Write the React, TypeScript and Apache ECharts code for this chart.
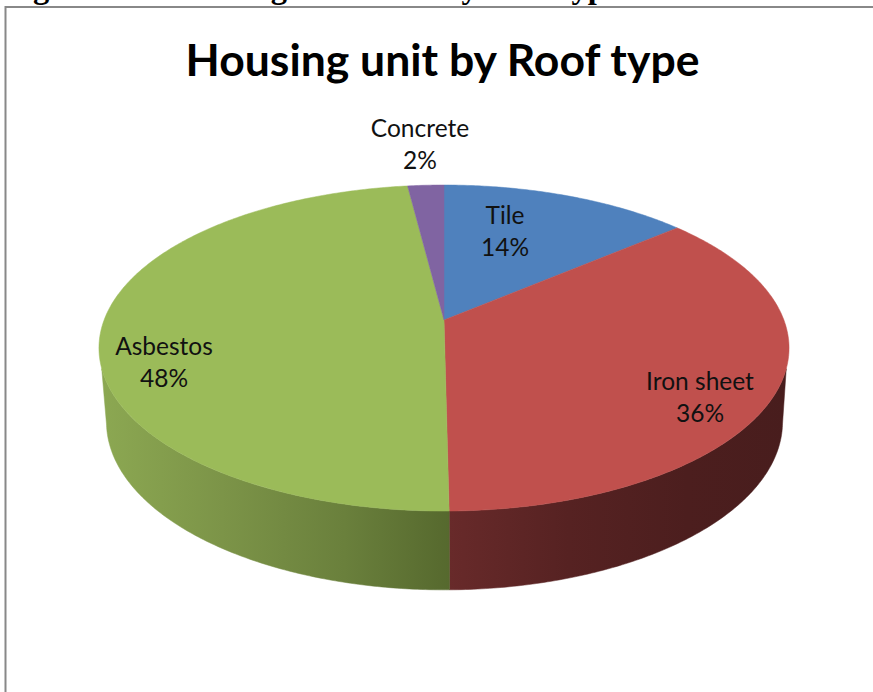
import React, { useEffect, useRef } from "react";
import * as echarts from "echarts";

const TITLE = "Housing unit by Roof type";
const CAPTION = "Figure 3.4:\u00a0 Housing structures by Roof type";
const categories = ["Tile", "Iron sheet", "Asbestos", "Concrete"];
const values = [13.8, 36, 48.2, 2];
const faceColors = ["#4F81BD", "#C0504D", "#9BBB59", "#8064A2"];
// side wall shading: colour stops, left to right, across [x0, x1]
const sideShade: Record<string, { x0: number; x1: number; stops: [number, string][] }> = {
  "Iron sheet": {
    x0: 449,
    x1: 790,
    stops: [[0, "#682A2A"], [0.35, "#562222"], [0.7, "#4C1E1E"], [1, "#481D1D"]],
  },
  Asbestos: {
    x0: 100,
    x1: 449,
    stops: [[0, "#8CA852"], [0.35, "#7C9448"], [0.7, "#6A803C"], [1, "#56692E"]],
  },
};
const labelCentres = [[505, 230], [700, 396], [164, 361], [420, 143]];

const total = values.reduce((a, b) => a + b, 0);
const K = -0.172;
const TOP = { ax: 339.9, ay: 158.2, ox: 444, oy: 320 };
const BOT = { ax: 333, ay: 163, ox: 444.5, oy: 393 };
const DEG = Math.PI / 180;
// where the wall's silhouette leaves the top and bottom rims (degrees from the right-hand side)
const TOP_TANGENT = 107 * DEG;
const BOT_TANGENT = 100.6 * DEG;

const project = (t: typeof TOP, angle: number) => {
  const u = Math.sin(angle);
  const v = -Math.cos(angle);
  const d = 1 + K * v;
  return [t.ox + (t.ax * u) / d, t.oy + (t.ay * v) / d];
};

const arc = (t: typeof TOP, from: number, to: number) => {
  const n = Math.max(8, Math.ceil(Math.abs(to - from) / 0.01));
  const pts: number[][] = [];
  for (let i = 0; i <= n; i++) pts.push(project(t, from + ((to - from) * i) / n));
  return pts;
};

const angleRange = (idx: number, val: number) => {
  const before = values.slice(0, idx).reduce((a, b) => a + b, 0);
  return [(before / total) * 2 * Math.PI, ((before + val) / total) * 2 * Math.PI];
};

const renderSide = (params: any, api: any) => {
  const idx = params.dataIndex;
  const [a0, a1] = angleRange(idx, api.value(1));
  const shade = sideShade[categories[idx]];
  const children: any[] = [];
  if (shade) {
    const topFrom = Math.max(a0, TOP_TANGENT);
    const botFrom = Math.max(a0, BOT_TANGENT);
    const topTo = Math.min(a1, 2 * Math.PI - TOP_TANGENT);
    const botTo = Math.min(a1, 2 * Math.PI - BOT_TANGENT);
    const pts = [...arc(TOP, topFrom, topTo), ...arc(BOT, botTo, botFrom)];
    const gradient = () =>
      new echarts.graphic.LinearGradient(
        shade.x0, 0, shade.x1, 0,
        shade.stops.map(([offset, color]) => ({ offset, color })),
        true,
      );
    children.push({
      type: "polygon",
      shape: { points: pts },
      style: { fill: gradient(), stroke: gradient(), lineWidth: 0.5 },
    });
  }
  return { type: "group", children };
};

const renderFace = (params: any, api: any) => {
  const idx = params.dataIndex;
  const val = api.value(1);
  const [a0, a1] = angleRange(idx, val);
  const pts: number[][] = [[TOP.ox, TOP.oy], ...arc(TOP, a0, a1)];
  const col = faceColors[idx];
  const [lx, ly] = labelCentres[idx];
  return {
    type: "group",
    children: [
      { type: "polygon", shape: { points: pts }, style: { fill: col, stroke: col, lineWidth: 0.5 } },
      {
        type: "text",
        z2: 10,
        x: lx,
        y: ly,
        style: {
          text: `${categories[idx]}\n${Math.round((val / total) * 100)}%`,
          fill: "#111111",
          font: "24.5px Lato, sans-serif",
          lineHeight: 32,
          align: "center",
          verticalAlign: "middle",
        },
      },
    ],
  };
};

export default function App() {
  const ref = useRef<HTMLDivElement>(null);
  useEffect(() => {
    const chart = echarts.init(ref.current!, undefined, { renderer: "svg" });
    const data = categories.map((c, i) => [c, values[i]]);
    chart.setOption({
      animation: false,
      backgroundColor: "#ffffff",
      title: {
        text: TITLE,
        left: 437.5,
        top: 31,
        textAlign: "center",
        textStyle: { fontFamily: "Lato, sans-serif", fontWeight: "bold", fontSize: 44.5, color: "#000000" },
      },
      graphic: [
        {
          type: "text",
          x: 4,
          y: -30,
          style: { text: CAPTION, fill: "#000", font: 'bold 32.5px "Liberation Serif", serif' },
        },
        {
          type: "polyline",
          shape: { points: [[5.5, 692], [5.5, 7], [873, 7]] },
          style: { stroke: "#888888", lineWidth: 2, fill: "none" },
        },
      ],
      series: [
        { type: "custom", coordinateSystem: "none", renderItem: renderSide, data, z: 1, silent: true },
        { type: "custom", coordinateSystem: "none", renderItem: renderFace, data, z: 2, silent: true },
      ],
    });
    return () => chart.dispose();
  }, []);
  return <div ref={ref} style={{ position: "absolute", left: 0, top: 0, width: 873, height: 692 }} />;
}
